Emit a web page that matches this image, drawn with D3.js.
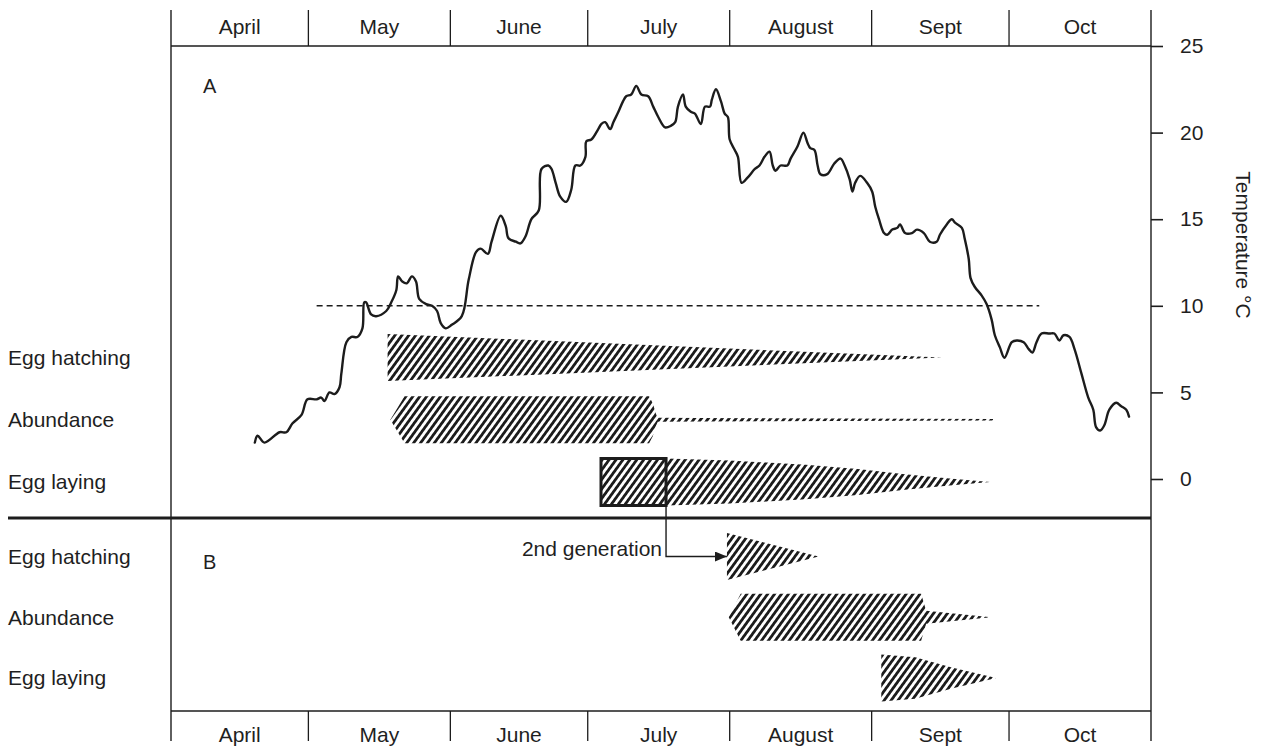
<!DOCTYPE html>
<html>
<head>
<meta charset="utf-8">
<script src="https://cdn.jsdelivr.net/npm/d3@7"></script>
<style>
  body { margin: 0; background: #fff; }
  svg { display: block; }
  text { font-family: "Liberation Sans", Arial, Helvetica, sans-serif; fill: #1f1f1f; }
</style>
</head>
<body>
<svg id="chart" width="1262" height="747"></svg>
<script>
// ---- season calendar (days counted from 1 April) ----
const months = ["April", "May", "June", "July", "August", "Sept", "Oct"];
const monthLengths = [30, 31, 30, 31, 31, 30, 31];

// ---- water temperature, °C ----
const tempTicks = [0, 5, 10, 15, 20, 25];
const tempDay = [18.3,18.9,20.4,23.7,25.2,26.5,28.5,29.8,31.8,32.8,
  33.5,34.6,35.7,36.8,37.2,38.3,39.4,40.7,41.8,42.2,
  42.6,43.7,44.8,47.0,48.1,49.2,49.6,50.5,51.5,52.6,
  53.5,54.2,55.7,57.0,58.1,58.9,60.0,61.3,63.5,65.0,
  66.6,67.6,69.2,70.0,72.0,73.1,73.7,75.3,76.3,77.4,
  78.7,80.3,80.9,82.4,83.1,84.0,85.0,86.3,87.4,88.3,
  89.4,90.5,90.7,91.8,93.3,94.0,94.8,95.9,96.6,97.7,
  98.7,99.4,100.5,101.6,102.7,104.2,105.3,106.4,107.9,109.2,
  110.1,110.7,111.8,112.4,113.5,114.4,115.7,116.6,117.7,118.1,
  119.0,120.1,120.9,121.6,122.0,123.1,123.8,124.6,125.9,127.5,
  128.5,129.6,130.7,131.4,132.0,133.1,134.6,135.3,136.8,138.1,
  139.0,139.6,140.5,141.2,141.8,143.3,144.8,146.2,147.1,148.2,
  148.8,149.4,150.5,152.0,153.1,153.8,154.6,155.7,156.4,157.5,
  158.6,159.2,160.3,161.8,162.9,164.4,165.7,167.2,167.9,169.4,
  170.5,171.2,172.7,173.3,174.2,174.6,175.5,177.0,178.1,179.2,
  179.9,181.0,182.0,183.6,184.7,186.2,187.3,188.1,189.0,190.1,
  191.8,192.9,194.0,194.9,196.2,197.3,198.8,200.3,201.4,202.0,
  202.9,203.8,204.9,206.4,207.5,208.6,209.2];
const tempC = [2.1,2.5,2.1,2.7,2.7,3.2,3.7,4.6,4.6,4.7,
  4.5,5.0,4.9,5.3,6.1,7.9,8.2,8.2,8.7,10.2,
  10.2,9.5,9.4,9.7,10.2,10.9,11.7,11.4,11.3,11.7,
  11.4,10.4,10.1,10.0,9.7,9.0,8.7,8.9,9.4,11.5,
  13.1,13.3,13.0,13.7,15.2,14.6,13.9,13.7,13.6,14.0,
  15.0,15.5,17.9,18.1,17.9,17.1,16.3,16.0,16.7,18.1,
  18.1,18.6,19.5,19.6,20.2,20.5,20.6,20.2,20.6,21.2,
  21.8,22.1,22.2,22.7,22.2,22.1,21.5,20.9,20.3,20.4,
  20.6,21.5,22.2,21.5,21.2,21.1,20.5,21.5,21.5,21.9,
  22.5,21.8,21.1,20.9,19.6,19.0,18.6,17.1,17.4,17.9,
  18.1,18.6,18.9,18.1,17.8,18.1,18.1,18.5,19.2,20.0,
  19.4,19.1,19.0,18.1,17.6,17.6,18.2,18.5,18.1,17.3,
  16.6,17.1,17.5,17.1,16.6,15.7,15.0,14.2,14.1,14.4,
  14.5,14.7,14.2,14.2,14.4,14.2,13.7,13.7,14.1,14.7,
  15.0,14.8,14.5,13.9,12.7,11.6,11.1,10.6,10.1,9.2,
  8.3,7.6,7.0,7.9,8.0,7.9,7.5,7.3,7.9,8.4,
  8.4,8.4,8.0,8.3,8.2,7.5,6.1,4.7,4.0,3.0,
  2.8,3.1,4.0,4.4,4.2,4.0,3.6];

// development threshold (°C) and the days over which it is drawn
const thresholdC = 10;
const thresholdDays = [31.8, 189.6];

// ---- life-stage rows ----
const stageRows = ["Egg hatching", "Abundance", "Egg laying"];
const panelNames = ["A", "B"];

// stage profiles: [day, relative intensity 0..1]
const hatchingA  = [[47.3, 1], [168.3, 0]];
const abundanceA = [[47.9, 0], [51.0, 1], [104.4, 1], [105.2, 0.7], [105.9, 0.25], [106.3, 0.08],
                    [115.2, 0.07], [179.5, 0.03]];
const layingA    = [[93.9, 1], [108.1, 1], [122.0, 0.92], [138.6, 0.73], [150.0, 0.55],
                    [160.3, 0.33], [170.0, 0.15], [178.9, 0]];
const hatchingB  = [[121.4, 1], [141.4, 0]];
const abundanceB = [[121.8, 0], [124.4, 1], [163.8, 1], [164.9, 0.28], [179.1, 0]];
const layingB    = [[155.1, 1], [162.5, 0.88], [170.5, 0.45], [180.2, 0]];

// egg laying that founds the second generation
const secondGenDays = [93.9, 108.1];

const stages = [
  { panel: "A", row: "Egg hatching", profile: hatchingA },
  { panel: "A", row: "Abundance",    profile: abundanceA },
  { panel: "A", row: "Egg laying",   profile: layingA },
  { panel: "B", row: "Egg hatching", profile: hatchingB },
  { panel: "B", row: "Abundance",    profile: abundanceB },
  { panel: "B", row: "Egg laying",   profile: layingB }
];

// ---- geometry ----
const INK = "#1c1c1c";
const FONT = 21;
const frameLeft = 171, frameRight = 1151, frameTop = 10, frameBottom = 741;
const seasonDays = d3.sum(monthLengths);
const monthStarts = d3.cumsum([0].concat(monthLengths)).slice(0, monthLengths.length + 1);

const x = d3.scaleLinear().domain([0, seasonDays]).range([frameLeft, frameRight]);
const y = d3.scaleLinear().domain([0, 25]).range([479, 46]);
const bottomAxisY = 711;
const dividerY = 518;

const rowY = {
  A: d3.scalePoint().domain(stageRows).range([357.5, 482]),
  B: d3.scalePoint().domain(stageRows).range([556.5, 678])
};
const halfBand = d3.scaleLinear().domain([0, 1]).range([0, 23.5]);

const svg = d3.select("#chart");

// hatch fill for life-stage bands
const defs = svg.append("defs");
defs.append("pattern")
  .attr("id", "hatch")
  .attr("patternUnits", "userSpaceOnUse")
  .attr("width", 5.6).attr("height", 5.6)
  .attr("patternTransform", "rotate(36)")
  .append("rect")
  .attr("width", 2.8).attr("height", 5.6)
  .attr("fill", INK);

defs.append("marker")
  .attr("id", "arrow")
  .attr("viewBox", "0 0 12 10")
  .attr("refX", 12).attr("refY", 5)
  .attr("markerWidth", 12).attr("markerHeight", 10)
  .attr("markerUnits", "userSpaceOnUse")
  .attr("orient", "auto")
  .append("path")
  .attr("d", "M0,0 L12,5 L0,10 Z")
  .attr("fill", INK);

// ---- frame ----
const frame = svg.append("g").attr("stroke", INK).attr("fill", "none");
frame.append("line").attr("x1", frameLeft).attr("x2", frameLeft)
  .attr("y1", frameTop).attr("y2", frameBottom).attr("stroke-width", 1.4);
frame.append("line").attr("x1", frameRight).attr("x2", frameRight)
  .attr("y1", frameTop).attr("y2", frameBottom).attr("stroke-width", 1.4);

// month header (top) and footer (bottom)
function monthBand(lineY, tickY0, tickY1, labelY) {
  const g = svg.append("g");
  g.append("line")
    .attr("x1", frameLeft).attr("x2", frameRight)
    .attr("y1", lineY).attr("y2", lineY)
    .attr("stroke", INK).attr("stroke-width", 1.4);
  g.selectAll("line.tick")
    .data(monthStarts.slice(1, -1))
    .join("line").attr("class", "tick")
    .attr("x1", d => x(d)).attr("x2", d => x(d))
    .attr("y1", tickY0).attr("y2", tickY1)
    .attr("stroke", INK).attr("stroke-width", 1.3);
  g.selectAll("text")
    .data(months)
    .join("text")
    .attr("x", (d, i) => x((monthStarts[i] + monthStarts[i + 1]) / 2))
    .attr("y", labelY)
    .attr("text-anchor", "middle")
    .attr("font-size", FONT)
    .text(d => d);
}
monthBand(y(25), frameTop, y(25), 34);
monthBand(bottomAxisY, bottomAxisY, frameBottom, 742);

// temperature axis on the right
const yAxis = d3.axisRight(y).tickValues(tempTicks).tickSize(12).tickPadding(17).tickFormat(d3.format("d"));
const yAxisG = svg.append("g")
  .attr("transform", `translate(${frameRight},0)`)
  .call(yAxis);
yAxisG.select(".domain").remove();
yAxisG.selectAll(".tick line").attr("stroke", INK).attr("stroke-width", 1.6);
yAxisG.selectAll(".tick text")
  .attr("font-size", FONT)
  .attr("font-family", '"Liberation Sans", Arial, Helvetica, sans-serif')
  .attr("fill", "#1f1f1f");

svg.append("text")
  .attr("transform", `translate(1236,245) rotate(90)`)
  .attr("text-anchor", "middle")
  .attr("font-size", FONT)
  .text("Temperature °C");

// panel divider
svg.append("line")
  .attr("x1", 8).attr("x2", frameRight)
  .attr("y1", dividerY).attr("y2", dividerY)
  .attr("stroke", INK).attr("stroke-width", 3);

// panel letters
svg.selectAll("text.panel")
  .data(panelNames)
  .join("text").attr("class", "panel")
  .attr("x", 203)
  .attr("y", d => d === "A" ? 93 : 569)
  .attr("font-size", 20)
  .text(d => d);

// row labels
panelNames.forEach(p => {
  svg.append("g").selectAll("text")
    .data(stageRows)
    .join("text")
    .attr("x", 8)
    .attr("y", d => rowY[p](d))
    .attr("dy", "0.35em")
    .attr("font-size", FONT)
    .text(d => d);
});

// ---- temperature curve and threshold ----
const tempSeries = tempDay.map((d, i) => ({ day: d, t: tempC[i] }));

svg.append("line")
  .attr("x1", x(thresholdDays[0])).attr("x2", x(thresholdDays[1]))
  .attr("y1", y(thresholdC)).attr("y2", y(thresholdC))
  .attr("stroke", INK).attr("stroke-width", 1.4)
  .attr("stroke-dasharray", "6,4");

svg.append("path")
  .datum(tempSeries)
  .attr("fill", "none")
  .attr("stroke", INK)
  .attr("stroke-width", 2.4)
  .attr("stroke-linejoin", "round")
  .attr("stroke-linecap", "round")
  .attr("d", d3.line()
    .x(d => x(d.day))
    .y(d => y(d.t))
    .curve(d3.curveCatmullRom.alpha(0.5)));

// ---- life-stage bands ----
const outline = d3.line().curve(d3.curveLinear);
svg.append("g").selectAll("path")
  .data(stages)
  .join("path")
  .attr("fill", "url(#hatch)")
  .attr("d", s => {
    const cy = rowY[s.panel](s.row);
    const top = s.profile.map(([d, v]) => [x(d), cy - halfBand(v)]);
    const bottom = s.profile.slice().reverse().map(([d, v]) => [x(d), cy + halfBand(v)]);
    return outline(top.concat(bottom)) + "Z";
  });

// second-generation egg laying box and arrow into panel B
const layCy = rowY.A("Egg laying");
const hatchCyB = rowY.B("Egg hatching");
svg.append("rect")
  .attr("x", x(secondGenDays[0]))
  .attr("y", layCy - halfBand(1))
  .attr("width", x(secondGenDays[1]) - x(secondGenDays[0]))
  .attr("height", halfBand(1) * 2)
  .attr("fill", "none")
  .attr("stroke", INK)
  .attr("stroke-width", 3);

svg.append("path")
  .attr("d", `M${x(secondGenDays[1])},${layCy + halfBand(1)} V${hatchCyB} H${x(hatchingB[0][0])}`)
  .attr("fill", "none")
  .attr("stroke", INK)
  .attr("stroke-width", 1.4)
  .attr("marker-end", "url(#arrow)");

svg.append("text")
  .attr("x", x(secondGenDays[1]) - 4)
  .attr("y", hatchCyB - 1)
  .attr("text-anchor", "end")
  .attr("font-size", FONT)
  .text("2nd generation");
</script>
</body>
</html>
